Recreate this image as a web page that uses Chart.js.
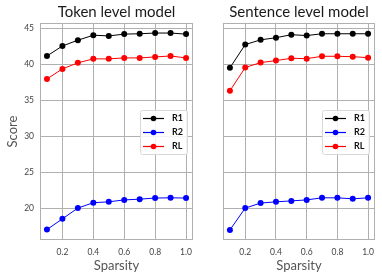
<!DOCTYPE html>
<html><head><meta charset="utf-8">
<script src="https://cdn.jsdelivr.net/npm/chart.js@4/dist/chart.umd.min.js"></script>
<style>
html,body{margin:0;padding:0;background:#fff;}
#wrap{position:relative;width:382px;height:280px;overflow:hidden;}
.c{position:absolute;top:0;}
</style></head><body>
<div id="wrap">
<div class="c" style="left:0;width:200px;height:280px"><canvas id="c1"></canvas></div>
<div class="c" style="left:190px;width:192px;height:280px"><canvas id="c2"></canvas></div>
</div>
<script>
const sparsity = [0.1, 0.2, 0.3, 0.4, 0.5, 0.6, 0.7, 0.8, 0.9, 1.0];
const xTicks = [0.2, 0.4, 0.6, 0.8, 1.0];
const yTicks = [20, 25, 30, 35, 40, 45];
const seriesNames = ['R1', 'R2', 'RL'];
const seriesColors = ['#000000', '#0000ff', '#ff0000'];

const tokenR1 = [41.2, 42.6, 43.4, 44.1, 44.0, 44.25, 44.3, 44.4, 44.4, 44.25];
const tokenR2 = [17.0, 18.5, 20.0, 20.75, 20.87, 21.14, 21.24, 21.4, 21.43, 21.4];
const tokenRL = [38.0, 39.4, 40.25, 40.8, 40.8, 40.93, 40.93, 41.07, 41.2, 40.93];

const sentR1 = [39.55, 42.8, 43.45, 43.75, 44.17, 44.05, 44.3, 44.3, 44.3, 44.3];
const sentR2 = [16.95, 20.0, 20.7, 20.87, 21.0, 21.14, 21.43, 21.43, 21.29, 21.43];
const sentRL = [36.35, 39.6, 40.28, 40.56, 40.88, 40.83, 41.16, 41.16, 41.1, 40.97];

const FONT = 'Lato, "Open Sans", sans-serif';
const GRID = '#b0b0b0';

function pts(arr){ return sparsity.map((x,i)=>({x:x, y:arr[i]})); }

const framePlugin = {
  id:'frameLegend',
  afterDatasetsDraw(chart){
    const a = chart.chartArea, ctx = chart.ctx;
    ctx.save();
    ctx.strokeStyle = GRID; ctx.lineWidth = 1;
    ctx.strokeRect(Math.round(a.left)+0.5, Math.round(a.top)+0.5, Math.round(a.right-a.left)-1, Math.round(a.bottom-a.top)-1);
    const w = 47, h = 44;
    const x0 = a.right - 6 - w, y0 = (a.top + a.bottom)/2 - h/2 + 0.5;
    ctx.fillStyle = 'rgba(255,255,255,0.85)';
    ctx.strokeStyle = '#d8d8d8';
    ctx.beginPath();
    if (ctx.roundRect) ctx.roundRect(Math.round(x0)+0.5, Math.round(y0)+0.5, w, h, 2); else ctx.rect(Math.round(x0)+0.5, Math.round(y0)+0.5, w, h);
    ctx.fill(); ctx.stroke();
    chart.data.datasets.forEach((ds,i)=>{
      const yy = Math.round(y0 + 7.5 + i*14) + 0.5;
      ctx.strokeStyle = ds.borderColor; ctx.lineWidth = 1.2;
      ctx.beginPath(); ctx.moveTo(x0+3, yy); ctx.lineTo(x0+24, yy); ctx.stroke();
      ctx.fillStyle = ds.borderColor;
      ctx.beginPath(); ctx.arc(x0+13.5, yy, 2.8, 0, Math.PI*2); ctx.fill();
      ctx.fillStyle = '#111';
      ctx.font = 'bold 9px ' + FONT;
      ctx.textBaseline = 'middle'; ctx.textAlign = 'left';
      ctx.fillText(ds.label, x0+32, yy);
    });
    ctx.restore();
  }
};

function makeChart(id, title, r1, r2, rl, showY, leftW, rightPad){
  const data = [r1, r2, rl];
  return new Chart(document.getElementById(id), {
    type:'line',
    data:{ datasets: seriesNames.map((n,i)=>({
      label:n, data:pts(data[i]), borderColor:seriesColors[i], backgroundColor:seriesColors[i],
      borderWidth:1, pointRadius:3, pointHoverRadius:3, pointBorderWidth:0, tension:0, fill:false
    }))},
    options:{
      responsive:true, maintainAspectRatio:false, animation:false,
      devicePixelRatio:1,
      layout:{padding:{left:0,right:rightPad,top:0,bottom:0}},
      plugins:{
        legend:{display:false}, tooltip:{enabled:false},
        title:{display:true, text:title, fullSize:false, color:'#1a1a1a',
          font:{family:FONT, size:15, weight:'normal'}, padding:{top:3,bottom:2}}
      },
      scales:{
        x:{type:'linear', min:0.055, max:1.045,
          afterBuildTicks(s){ s.ticks = xTicks.map(v=>({value:v})); },
          afterFit(s){ s.height = 40; },
          grid:{color:GRID, drawTicks:false, lineWidth:1},
          border:{display:false},
          ticks:{color:'#444', font:{family:FONT, size:8.5}, padding:7, maxRotation:0,
            callback:v=>v.toFixed(1)},
          title:{display:true, text:'Sparsity', color:'#555', font:{family:FONT, size:13}, padding:{top:0,bottom:6}}
        },
        y:{min:15.55, max:45.8,
          afterBuildTicks(s){ s.ticks = yTicks.map(v=>({value:v})); },
          afterFit(s){ s.width = leftW; },
          grid:{color:GRID, drawTicks:false, lineWidth:1},
          border:{display:false},
          ticks:{display:showY, color:'#444', font:{family:FONT, size:8.5}, padding:6},
          title:{display:showY, text:'Score', color:'#555', font:{family:FONT, size:13}, padding:{top:5,bottom:0}}
        }
      }
    },
    plugins:[framePlugin]
  });
}

makeChart('c1', 'Token level model', tokenR1, tokenR2, tokenRL, true, 40, 7);
makeChart('c2', 'Sentence level model', sentR1, sentR2, sentRL, false, 33, 7);
</script>
</body></html>
